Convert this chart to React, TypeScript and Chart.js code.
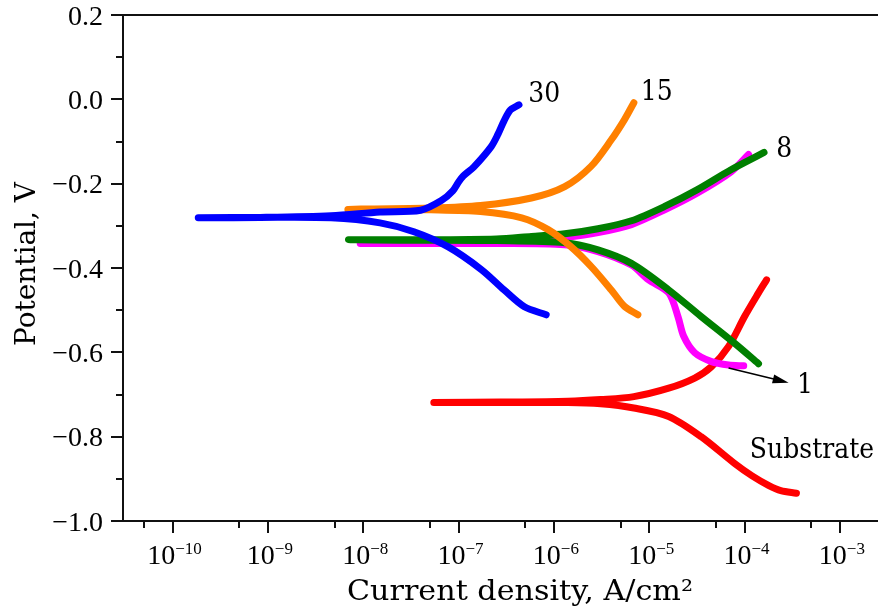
import { useEffect, useRef } from "react";
import { Chart, registerables } from "chart.js";

Chart.register(...registerables);

// ---- data: current density (A/cm^2) and potential (V) ----
const blueCurrent = [8.3e-7, 4.9e-7, 3.0e-7, 1.74e-7, 7.8e-8, 3.4e-8, 1.5e-8, 4.6e-9, 8.3e-10, 1.86e-10, 8.3e-10, 4.6e-9, 1.5e-8, 4.0e-8, 6.6e-8, 8.7e-8, 1.0e-7, 1.12e-7, 1.45e-7, 2.2e-7, 2.6e-7, 3.0e-7, 3.5e-7, 4.3e-7];
const bluePotential = [-0.511, -0.492, -0.452, -0.404, -0.35, -0.314, -0.293, -0.281, -0.28, -0.281, -0.28, -0.276, -0.267, -0.263, -0.24, -0.217, -0.196, -0.182, -0.16, -0.112, -0.082, -0.051, -0.025, -0.013];

const orangeCurrent = [7.6e-6, 5.5e-6, 4.0e-6, 2.45e-6, 1.5e-6, 8.7e-7, 4.6e-7, 1.7e-7, 5.1e-8, 1.2e-8, 6.9e-9, 1.2e-8, 5.1e-8, 1.7e-7, 5.8e-7, 1.3e-6, 2.45e-6, 4.0e-6, 5.5e-6, 6.9e-6];
const orangePotential = [-0.511, -0.491, -0.452, -0.396, -0.349, -0.309, -0.281, -0.266, -0.262, -0.261, -0.261, -0.26, -0.258, -0.252, -0.234, -0.207, -0.159, -0.096, -0.048, -0.008];

const greenCurrent = [1.4e-4, 7.8e-5, 3.5e-5, 1.6e-5, 6.5e-6, 2.9e-6, 1.3e-6, 2.5e-7, 3.2e-8, 7.0e-9, 3.2e-8, 2.5e-7, 5.8e-7, 1.3e-6, 2.9e-6, 6.5e-6, 1.45e-5, 3.2e-5, 7.2e-5, 1.6e-4];
const greenPotential = [-0.627, -0.578, -0.515, -0.452, -0.389, -0.357, -0.34, -0.335, -0.334, -0.333, -0.333, -0.331, -0.325, -0.319, -0.307, -0.288, -0.254, -0.214, -0.167, -0.126];

const magentaCurrent = [9.8e-5, 6.8e-5, 4.5e-5, 3.0e-5, 2.3e-5, 2.0e-5, 1.6e-5, 9.8e-6, 6.5e-6, 2.9e-6, 1.3e-6, 2.5e-7, 3.2e-8, 9.3e-9, 3.2e-8, 2.5e-7, 5.8e-7, 1.3e-6, 2.9e-6, 6.5e-6, 1.45e-5, 3.2e-5, 7.2e-5, 1.1e-4];
const magentaPotential = [-0.632, -0.63, -0.622, -0.601, -0.562, -0.515, -0.459, -0.428, -0.393, -0.361, -0.345, -0.342, -0.342, -0.342, -0.342, -0.34, -0.336, -0.328, -0.316, -0.297, -0.262, -0.222, -0.172, -0.131];

const redCurrent = [3.5e-4, 2.4e-4, 1.8e-4, 1.2e-4, 7.8e-5, 3.5e-5, 1.6e-5, 6.9e-6, 3.1e-6, 1.4e-6, 2.75e-7, 5.5e-8, 2.75e-7, 1.4e-6, 3.1e-6, 6.9e-6, 1.6e-5, 3.0e-5, 4.5e-5, 6.8e-5, 1.0e-4, 1.4e-4, 1.7e-4];
const redPotential = [-0.934, -0.928, -0.916, -0.893, -0.863, -0.8, -0.752, -0.732, -0.722, -0.719, -0.719, -0.719, -0.718, -0.716, -0.712, -0.705, -0.685, -0.661, -0.634, -0.586, -0.515, -0.459, -0.428];

// ---- axes ----
const xMin = 3.02e-11;
const xMax = 2.51e-3;
const yMin = -1.0;
const yMax = 0.2;
const xMajorTicks = [1e-10, 1e-9, 1e-8, 1e-7, 1e-6, 1e-5, 1e-4, 1e-3];
const xMajorExponents = ["\u221210", "\u22129", "\u22128", "\u22127", "\u22126", "\u22125", "\u22124", "\u22123"];
const xMinorTicks = [5e-11, 5e-10, 5e-9, 5e-8, 5e-7, 5e-6, 5e-5, 5e-4];
const yMajorTicks = [0.2, 0.0, -0.2, -0.4, -0.6, -0.8, -1.0];
const yMajorLabels = ["0.2", "0.0", "\u22120.2", "\u22120.4", "\u22120.6", "\u22120.8", "\u22121.0"];
const yMinorTicks = [0.1, -0.1, -0.3, -0.5, -0.7, -0.9];
const xTitle = "Current density, A/cm\u00b2";
const yTitle = "Potential, V";

// ---- annotations ----
const labelTexts = ["30", "15", "8", "1", "Substrate"];
const labelCurrents = [7.9e-7, 1.2e-5, 2.6e-4, 4.3e-4, 5.1e-4];
const labelPotentials = [0.018, 0.023, -0.113, -0.672, -0.826];
const arrowCurrents = [6.8e-5, 2.9e-4];
const arrowPotentials = [-0.637, -0.672];

function pts(xs: number[], ys: number[]) {
  return xs.map((x, i) => ({ x, y: ys[i] }));
}

function drawText(
  ctx: CanvasRenderingContext2D,
  text: string,
  x: number,
  y: number,
  font: string,
  align: "left" | "center" | "right",
  sx = 1,
  targetWidth = 0
) {
  ctx.save();
  ctx.font = font;
  ctx.textBaseline = "alphabetic";
  ctx.textAlign = "left";
  const natural = ctx.measureText(text).width;
  const s = targetWidth > 0 ? targetWidth / natural : sx;
  const w = natural * s;
  const left = align === "center" ? x - w / 2 : align === "right" ? x - w : x;
  ctx.translate(left, y);
  ctx.scale(s, 1);
  ctx.fillText(text, 0, 0);
  ctx.restore();
}

const TICK_FONT = "28px 'Liberation Serif', serif";
const SUP_FONT = "17px 'Liberation Serif', serif";
const TITLE_FONT = "28px 'DejaVu Serif', serif";
const LABEL_FONT = "27px 'DejaVu Serif', serif";

const axesPlugin = {
  id: "customAxes",
  afterDraw(chart: any) {
    const ctx: CanvasRenderingContext2D = chart.ctx;
    const ca = chart.chartArea;
    const xs = chart.scales.x;
    const ys = chart.scales.y;
    ctx.save();
    ctx.strokeStyle = "#111";
    ctx.fillStyle = "#000";
    ctx.lineWidth = 2;
    ctx.beginPath();
    ctx.moveTo(ca.right, ca.top);
    ctx.lineTo(ca.left, ca.top);
    ctx.lineTo(ca.left, ca.bottom);
    ctx.lineTo(ca.right, ca.bottom);
    ctx.stroke();

    // y ticks
    ctx.beginPath();
    yMajorTicks.forEach((v) => {
      const py = Math.round(ys.getPixelForValue(v));
      ctx.moveTo(ca.left - 12, py);
      ctx.lineTo(ca.left, py);
    });
    yMinorTicks.forEach((v) => {
      const py = Math.round(ys.getPixelForValue(v));
      ctx.moveTo(ca.left - 7, py);
      ctx.lineTo(ca.left, py);
    });
    // x ticks
    xMajorTicks.forEach((v) => {
      const px = Math.round(xs.getPixelForValue(v));
      ctx.moveTo(px, ca.bottom);
      ctx.lineTo(px, ca.bottom + 12);
    });
    xMinorTicks.forEach((v) => {
      const px = Math.round(xs.getPixelForValue(v));
      ctx.moveTo(px, ca.bottom);
      ctx.lineTo(px, ca.bottom + 7);
    });
    ctx.stroke();

    // y tick labels
    yMajorTicks.forEach((v, i) => {
      const py = ys.getPixelForValue(v);
      drawText(ctx, yMajorLabels[i], ca.left - 20, py + 9.5, TICK_FONT, "right");
    });

    // x tick labels (10 with superscript exponent)
    xMajorTicks.forEach((v, i) => {
      const px = xs.getPixelForValue(v);
      ctx.font = TICK_FONT;
      const wb = ctx.measureText("10").width;
      ctx.font = SUP_FONT;
      const wsup = ctx.measureText(xMajorExponents[i]).width;
      const left = px - (wb + wsup) / 2 + 2;
      drawText(ctx, "10", left, ca.bottom + 43, TICK_FONT, "left");
      drawText(ctx, xMajorExponents[i], left + wb, ca.bottom + 33, SUP_FONT, "left");
    });

    // axis titles
    drawText(ctx, xTitle, 520, 600, TITLE_FONT, "center", 1, 346);
    ctx.save();
    ctx.translate(35, 264);
    ctx.rotate(-Math.PI / 2);
    drawText(ctx, yTitle, 0, 0, TITLE_FONT, "center", 1, 164);
    ctx.restore();

    // arrow
    const ax0 = xs.getPixelForValue(arrowCurrents[0]);
    const ay0 = ys.getPixelForValue(arrowPotentials[0]);
    const ax1 = xs.getPixelForValue(arrowCurrents[1]);
    const ay1 = ys.getPixelForValue(arrowPotentials[1]);
    const ang = Math.atan2(ay1 - ay0, ax1 - ax0);
    ctx.lineWidth = 1.6;
    ctx.strokeStyle = "#000";
    ctx.beginPath();
    ctx.moveTo(ax0, ay0);
    ctx.lineTo(ax1 - 10 * Math.cos(ang), ay1 - 10 * Math.sin(ang));
    ctx.stroke();
    ctx.beginPath();
    ctx.moveTo(ax1, ay1);
    ctx.lineTo(ax1 - 16 * Math.cos(ang) + 4.5 * Math.sin(ang), ay1 - 16 * Math.sin(ang) - 4.5 * Math.cos(ang));
    ctx.lineTo(ax1 - 16 * Math.cos(ang) - 4.5 * Math.sin(ang), ay1 - 16 * Math.sin(ang) + 4.5 * Math.cos(ang));
    ctx.closePath();
    ctx.fill();

    // curve labels
    labelTexts.forEach((t, i) => {
      const px = xs.getPixelForValue(labelCurrents[i]);
      const py = ys.getPixelForValue(labelPotentials[i]);
      drawText(ctx, t, px, py + 10, LABEL_FONT, "center", 0.93);
    });
    ctx.restore();
  },
};

function series(label: string, color: string, xs: number[], ys: number[]) {
  return {
    label,
    data: pts(xs, ys),
    showLine: true,
    borderColor: color,
    backgroundColor: color,
    borderWidth: 7,
    borderCapStyle: "round" as const,
    borderJoinStyle: "round" as const,
    pointRadius: 0,
    pointHoverRadius: 0,
    tension: 0.3,
    fill: false,
  };
}

export default function App() {
  const ref = useRef<HTMLCanvasElement | null>(null);
  useEffect(() => {
    if (!ref.current) return;
    const chart = new Chart(ref.current, {
      type: "scatter",
      data: {
        datasets: [
          series("30", "#0000ff", blueCurrent, bluePotential),
          series("15", "#ff8000", orangeCurrent, orangePotential),
          series("8", "#007f00", greenCurrent, greenPotential),
          series("1", "#ff00ff", magentaCurrent, magentaPotential),
          series("Substrate", "#ff0000", redCurrent, redPotential),
        ],
      },
      options: {
        responsive: false,
        animation: false,
        layout: { padding: { left: 123, top: 15, right: 0, bottom: 86 } },
        plugins: { legend: { display: false }, tooltip: { enabled: false } },
        scales: {
          x: { type: "logarithmic", min: xMin, max: xMax, display: false },
          y: { type: "linear", min: yMin, max: yMax, display: false },
        },
      },
      plugins: [axesPlugin],
    });
    return () => chart.destroy();
  }, []);
  return (
    <div style={{ position: "fixed", left: 0, top: 0, width: 878, height: 607, background: "#fff" }}>
      <canvas ref={ref} width={878} height={607} />
    </div>
  );
}
